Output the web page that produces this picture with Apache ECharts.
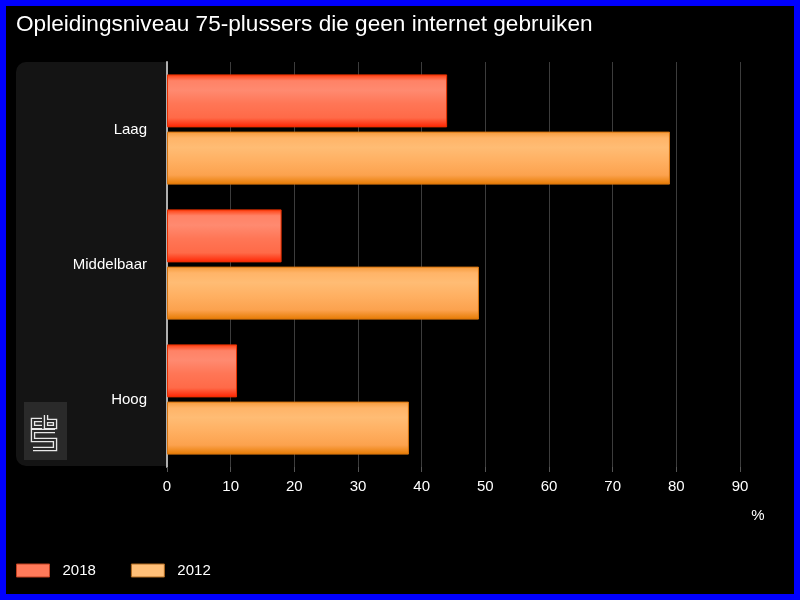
<!DOCTYPE html>
<html><head><meta charset="utf-8">
<script src="https://cdn.jsdelivr.net/npm/echarts@6/dist/echarts.min.js"></script>
<style>html,body{margin:0;padding:0;background:#000}#c{width:800px;height:600px}</style>
</head><body><div id="c"></div>
<script>
const categories = ['Laag', 'Middelbaar', 'Hoog'];
const values2018 = [44, 18, 11];
const values2012 = [79, 49, 38];
const xTicks = [0, 10, 20, 30, 40, 50, 60, 70, 80, 90];
const titleText = 'Opleidingsniveau 75-plussers die geen internet gebruiken';

const G = echarts.graphic;
const red = new G.LinearGradient(0, 0, 0, 1, [
  {offset: 0, color: '#ff3a0a'}, {offset: 0.12, color: '#ff8266'},
  {offset: 0.3, color: '#ff8a70'}, {offset: 0.55, color: '#ff7656'},
  {offset: 0.82, color: '#ff6a48'}, {offset: 1, color: '#ff2200'}]);
const orange = new G.LinearGradient(0, 0, 0, 1, [
  {offset: 0, color: '#f59a3a'}, {offset: 0.12, color: '#ffb468'},
  {offset: 0.3, color: '#ffbc74'}, {offset: 0.55, color: '#ffb062'},
  {offset: 0.82, color: '#fca24e'}, {offset: 1, color: '#e67a00'}]);

const cPts = [[42,420],[33,420],[33,427],[42,427]];
const bPts = [[46,415],[46,427],[55,427],[55,421],[46,421]];
const sPts = [[55,431],[33,431],[33,440],[55,440],[55,449],[33,449]];
const logo = [];
[cPts, bPts, sPts].forEach(p => {
  logo.push({type: 'polyline', z: 100, shape: {points: p}, style: {stroke: '#e8e8e8', lineWidth: 4.5, fill: null, lineJoin: 'miter'}});
  logo.push({type: 'polyline', z: 101, shape: {points: p}, style: {stroke: '#2a2a2a', lineWidth: 1.8, fill: null, lineJoin: 'miter'}});
});

const chart = echarts.init(document.getElementById('c'));
chart.setOption({
  backgroundColor: '#000',
  animation: false,
  title: {text: titleText, left: 11, top: 8,
    textStyle: {color: '#fff', fontSize: 22.6, fontWeight: 'normal', fontFamily: 'Liberation Sans, Arial'}},
  graphic: [
    {type: 'rect', z: -10, shape: {x: 16, y: 62, width: 152, height: 404, r: [10, 0, 0, 10]}, style: {fill: '#141414'}},
    {type: 'rect', z: -9, shape: {x: 24, y: 402, width: 43, height: 58}, style: {fill: '#2a2a2a'}},
    ...logo,
    {type: 'text', z: 100, style: {x: 758, y: 516, text: '%', fill: '#fff', font: '15px Liberation Sans, Arial', textAlign: 'center', textVerticalAlign: 'middle'}},
    {type: 'rect', z: 200, silent: true, shape: {x: 0, y: 0, width: 800, height: 600}, style: {fill: null, stroke: '#0000ff', lineWidth: 12}}
  ],
  grid: {left: 167, right: 60, top: 62, bottom: 133, containLabel: false},
  legend: {
    left: 16, top: 563, padding: 0, itemWidth: 33, itemHeight: 13, itemGap: 35,
    textStyle: {color: '#fff', fontSize: 15, fontFamily: 'Liberation Sans, Arial', padding: [0, 0, 0, 8]},
    data: [
      {name: '2018', icon: 'rect', itemStyle: {color: '#ff7a5a', borderColor: '#c04020', borderWidth: 1}},
      {name: '2012', icon: 'rect', itemStyle: {color: '#ffbf78', borderColor: '#b06a20', borderWidth: 1}}
    ]
  },
  xAxis: {
    type: 'value', min: 0, max: 90, interval: 10,
    axisLine: {show: false},
    axisTick: {show: true, length: 5, lineStyle: {color: '#555'}},
    axisLabel: {color: '#fff', fontSize: 15, margin: 12, fontFamily: 'Liberation Sans, Arial',
      formatter: v => xTicks.includes(v) ? String(v) : ''},
    splitLine: {show: true, lineStyle: {color: '#3c3c3c', width: 1}}
  },
  yAxis: {
    type: 'category', data: categories, inverse: true,
    axisLine: {show: true, lineStyle: {color: '#b0b0b0', width: 2}},
    axisTick: {show: false},
    axisLabel: {color: '#fff', fontSize: 15, margin: 20, fontFamily: 'Liberation Sans, Arial'}
  },
  series: [
    {name: '2018', type: 'bar', data: values2018, barWidth: 53, barGap: '8%',
      itemStyle: {color: red, borderColor: '#e83000', borderWidth: 1}},
    {name: '2012', type: 'bar', data: values2012, barWidth: 53,
      itemStyle: {color: orange, borderColor: '#d77410', borderWidth: 1}}
  ]
});
</script></body></html>
